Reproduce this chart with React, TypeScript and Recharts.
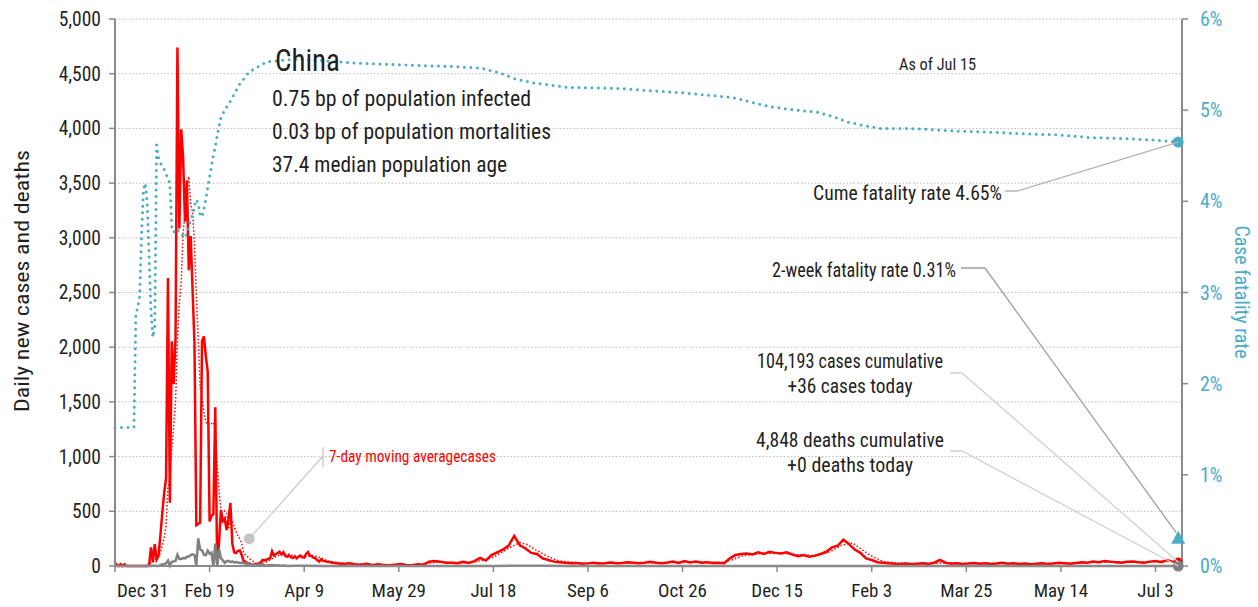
import {
  CartesianGrid,
  ComposedChart,
  Line,
  ReferenceDot,
  XAxis,
  YAxis,
} from "recharts";

const W = 1258;
const H = 607;
const FONT = "'Liberation Sans Narrow', 'Arial Narrow', 'Roboto Condensed', 'DejaVu Sans Condensed', sans-serif";
const TEXT = "#1f1f1f";
const AXIS = "#8a8a8a";
const GRID = "#b8b8b8";
const TEAL = "#4bacc6";
const RED = "#ff0000";
const DEATH = "#808080";

// plot box in px (chart margins + axis widths add up to this)
const PLOT = { left: 115, right: 1182, top: 19, bottom: 566 };
const X_MAX = 564; // days after Dec 31, 2019

// x axis: days since Dec 31 2019
const xTickDays = [0, 50, 100, 150, 200, 250, 300, 350, 400, 450, 500, 550];
const xTickLabels = ["Dec 31", "Feb 19", "Apr 9", "May 29", "Jul 18", "Sep 6", "Oct 26", "Dec 15", "Feb 3", "Mar 25", "May 14", "Jul 3"];
const leftTicks = [0, 500, 1000, 1500, 2000, 2500, 3000, 3500, 4000, 4500, 5000];
const rightTicks = [0, 1, 2, 3, 4, 5, 6];

// daily new cases, day 0..110
const casesDaily = [
  27, 10, 0, 17, 0, 15, 0, 0, 0, 0,
  0, 0, 0, 0, 0, 0, 0, 0, 4, 170,
  35, 200, 60, 95, 277, 486, 669, 802, 2632, 578,
  2054, 1661, 2089, 4739, 3086, 3991, 3733, 3147, 3523, 2704,
  3015, 2525, 2032, 373, 385, 395, 2055, 2100, 1921, 1777,
  408, 458, 473, 1451, 21, 219, 513, 412, 434, 328,
  428, 576, 204, 125, 119, 139, 143, 99, 44, 40,
  19, 24, 15, 11, 20, 16, 25, 33, 56, 50,
  57, 64, 71, 135, 96, 110, 118, 130, 105, 125,
  92, 86, 95, 80, 72, 88, 70, 84, 96, 80,
  77, 110, 128, 95, 88, 75, 70, 52, 40, 62,
  48,
];

// new cases after day 110, [day, cases]
const casesLater: [number, number][] = [
  [112, 40], [115, 30], [118, 22], [121, 18], [124, 25], [127, 14], [130, 12], [133, 20], [136, 8], [139, 15],
  [142, 10], [145, 6], [148, 12], [151, 18], [154, 10], [157, 8], [160, 15], [163, 12], [166, 40], [169, 45],
  [172, 38], [175, 30], [178, 30], [181, 25], [184, 38], [187, 28], [190, 45], [193, 75], [196, 50], [199, 100],
  [202, 125], [205, 150], [208, 185], [211, 275], [214, 190], [217, 160], [220, 120], [223, 110], [226, 70], [229, 55],
  [232, 40], [235, 35], [238, 30], [241, 25], [244, 28], [247, 20], [250, 24], [253, 30], [256, 22], [259, 26],
  [262, 32], [265, 25], [268, 28], [271, 35], [274, 30], [277, 25], [280, 30], [283, 38], [286, 30], [289, 26],
  [292, 32], [295, 40], [298, 28], [301, 45], [304, 33], [307, 40], [310, 30], [313, 35], [316, 28], [319, 30],
  [322, 26], [325, 70], [328, 100], [331, 110], [334, 115], [337, 105], [340, 125], [343, 110], [346, 130], [349, 120],
  [352, 115], [355, 125], [358, 105], [361, 90], [364, 100], [367, 85], [370, 95], [373, 110], [376, 130], [379, 170],
  [382, 185], [385, 240], [388, 200], [391, 150], [394, 120], [397, 70], [400, 55], [403, 35], [406, 30], [409, 25],
  [412, 20], [415, 18], [418, 22], [421, 15], [424, 20], [427, 25], [430, 18], [433, 30], [436, 55], [439, 30],
  [442, 20], [445, 25], [448, 18], [451, 22], [454, 28], [457, 20], [460, 25], [463, 18], [466, 22], [469, 30],
  [472, 20], [475, 25], [478, 18], [481, 22], [484, 15], [487, 20], [490, 25], [493, 18], [496, 22], [499, 30],
  [502, 25], [505, 20], [508, 28], [511, 35], [514, 30], [517, 40], [520, 35], [523, 45], [526, 40], [529, 35],
  [532, 30], [535, 38], [538, 42], [541, 35], [544, 30], [547, 40], [550, 45], [553, 35], [556, 55], [559, 40],
  [562, 36],
];

// daily deaths, day 0..91
const deathsDaily = [
  0, 0, 0, 0, 0, 0, 0, 0, 0, 0,
  0, 1, 0, 0, 0, 0, 0, 0, 0, 0,
  2, 3, 0, 1, 8, 16, 14, 26, 49, 2,
  38, 42, 46, 102, 64, 65, 72, 70, 85, 87,
  100, 107, 100, 5, 252, 152, 142, 103, 98, 139,
  112, 122, 0, 205, 2, 150, 70, 52, 29, 44,
  47, 35, 42, 33, 36, 32, 28, 29, 27, 23,
  16, 22, 11, 7, 14, 10, 14, 13, 11, 8,
  3, 7, 6, 9, 7, 4, 6, 5, 3, 5,
  4, 1,
];
const deathsLater: [number, number][] = [
  [95, 3], [100, 2], [110, 1], [130, 0], [200, 0], [215, 3], [225, 2], [240, 0], [562, 0],
];

// 7-day moving average of cases, [day, value]
const avgPoints: [number, number][] = [
  [17, 0], [19, 25], [20, 30], [21, 58], [22, 67], [23, 81], [24, 120], [25, 189], [26, 260], [27, 370],
  [28, 717], [29, 791], [30, 1071], [31, 1269], [32, 1498], [33, 2079], [34, 2406], [35, 2600], [36, 3050], [37, 3207],
  [38, 3473], [39, 3560], [40, 3314], [41, 3234], [42, 2954], [43, 2474], [44, 2080], [45, 1633], [46, 1540], [47, 1409],
  [48, 1323], [49, 1287], [50, 1292], [51, 1302], [52, 1313], [53, 1227], [54, 930], [55, 687], [56, 506], [57, 507],
  [58, 503], [59, 483], [60, 336], [61, 416], [62, 414], [63, 358], [64, 316], [65, 274], [66, 248], [67, 201],
  [68, 125], [69, 101], [70, 86], [72, 55], [75, 21], [78, 25], [80, 37], [83, 67], [86, 93], [89, 117],
  [92, 107], [95, 91], [98, 84], [101, 86], [104, 96], [107, 88], [110, 62], [113, 45], [120, 28], [130, 18],
  [140, 12], [150, 11], [160, 12], [166, 25], [172, 38], [178, 32], [185, 30], [190, 35], [195, 55], [200, 80],
  [205, 130], [210, 180], [214, 215], [218, 195], [222, 150], [228, 95], [234, 50], [240, 35], [250, 26], [270, 28],
  [290, 30], [300, 34], [310, 36], [320, 30], [326, 55], [332, 95], [340, 112], [350, 120], [360, 105], [370, 95],
  [378, 130], [384, 190], [390, 210], [394, 160], [400, 90], [406, 40], [415, 25], [430, 22], [440, 30], [450, 22],
  [470, 22], [490, 21], [510, 27], [520, 35], [540, 36], [550, 40], [562, 42],
];

// cumulative case fatality rate, %, [day, value]
const cfrPoints: [number, number][] = [
  [0, 1.52], [10, 1.52], [11, 2.75], [12, 2.84], [13, 2.95], [14, 3.6], [15, 4.12], [16, 4.2], [17, 3.98], [18, 3.4],
  [19, 2.8], [20, 2.51], [21, 2.62], [22, 4.62], [23, 4.48], [24, 4.42], [25, 4.38], [26, 4.35], [27, 4.3], [28, 4.25],
  [29, 4.2], [30, 3.72], [31, 3.66], [32, 3.68], [33, 3.7], [34, 3.66], [35, 3.64], [36, 3.62], [37, 3.6], [38, 3.66],
  [39, 3.72], [40, 3.8], [41, 3.85], [42, 3.95], [43, 4.02], [44, 3.98], [45, 3.85], [46, 3.83], [47, 3.92], [48, 4.02],
  [49, 4.15], [50, 4.27], [51, 4.38], [52, 4.5], [53, 4.6], [54, 4.72], [55, 4.82], [56, 4.92], [58, 5.0], [61, 5.1],
  [66, 5.29], [71, 5.42], [80, 5.53], [90, 5.55], [100, 5.56], [124, 5.52], [160, 5.49], [177, 5.48], [194, 5.46], [203, 5.41],
  [212, 5.34], [221, 5.3], [239, 5.25], [265, 5.24], [300, 5.19], [326, 5.14], [346, 5.04], [360, 5.0], [371, 4.98], [381, 4.92],
  [387, 4.87], [394, 4.84], [404, 4.8], [418, 4.8], [429, 4.79], [445, 4.77], [462, 4.76], [480, 4.74], [498, 4.73], [515, 4.7],
  [532, 4.69], [550, 4.67], [562, 4.65],
];

const LAST_DAY = 562;
const lastCases = 36;
const lastDeaths = 0;
const cumeCfr = 4.65;
const twoWeekCfr = 0.31;
const avgLabelAnchor = { day: 71, value: 250 };

type Row = { day: number; cases?: number; deaths?: number; avg?: number; cfr?: number };

function buildRows(): Row[] {
  const map = new Map<number, Row>();
  const put = (day: number, key: keyof Omit<Row, "day">, v: number) => {
    const row = map.get(day) ?? { day };
    row[key] = v;
    map.set(day, row);
  };
  casesDaily.forEach((v, d) => put(d, "cases", v));
  casesLater.forEach(([d, v]) => put(d, "cases", v));
  deathsDaily.forEach((v, d) => put(d, "deaths", v));
  deathsLater.forEach(([d, v]) => put(d, "deaths", v));
  avgPoints.forEach(([d, v]) => put(d, "avg", v));
  cfrPoints.forEach(([d, v]) => put(d, "cfr", v));
  return [...map.values()].sort((a, b) => a.day - b.day);
}

const rows = buildRows();

// same mapping the chart uses, for the annotation overlay
const px = (day: number) => PLOT.left + (day / X_MAX) * (PLOT.right - PLOT.left);
const pyL = (v: number) => PLOT.bottom - (v / 5000) * (PLOT.bottom - PLOT.top);
const pyR = (p: number) => PLOT.bottom - (p / 6) * (PLOT.bottom - PLOT.top);

// eslint-disable-next-line @typescript-eslint/no-explicit-any
function XTick(props: any) {
  const { x, y, payload } = props;
  const i = xTickDays.indexOf(payload.value);
  const first = i === 0;
  return (
    <text
      x={first ? x + 2 : x}
      y={y}
      dy="0.71em"
      textAnchor={first ? "start" : "middle"}
      fill={TEXT}
      fontSize={19}
      fontFamily={FONT}
    >
      {xTickLabels[i]}
    </text>
  );
}

// eslint-disable-next-line @typescript-eslint/no-explicit-any
const triangle = (p: any) => (
  <polygon points={`${p.cx},${p.cy - 7} ${p.cx - 7},${p.cy + 6} ${p.cx + 7},${p.cy + 6}`} fill={TEAL} />
);

function Overlay() {
  const endX = px(LAST_DAY);
  const t = { fontFamily: FONT, fill: TEXT } as const;
  return (
    <svg width={W} height={H} style={{ position: "absolute", left: 0, top: 0, pointerEvents: "none" }}>
      {/* leader lines */}
      <polyline points={`1005,191 1017,191 ${endX},${pyR(cumeCfr)}`} fill="none" stroke="#b4b4b4" strokeWidth={1.3} />
      <polyline points={`961,268 985,268 ${endX - 2},${pyR(twoWeekCfr) - 5}`} fill="none" stroke="#a0a0a0" strokeWidth={1.3} />
      <polyline points={`950,373 962,373 ${endX},${pyL(lastCases)}`} fill="none" stroke="#d0d0d0" strokeWidth={1.3} />
      <polyline points={`950,451 962,451 ${endX},${pyL(lastDeaths)}`} fill="none" stroke="#d0d0d0" strokeWidth={1.3} />
      <line x1={px(avgLabelAnchor.day)} y1={pyL(avgLabelAnchor.value)} x2={323} y2={456} stroke="#c8c8c8" strokeWidth={1.2} />
      <line x1={323} y1={447} x2={323} y2={467} stroke="#c0c0c0" strokeWidth={1.2} />
      <circle cx={px(avgLabelAnchor.day)} cy={pyL(avgLabelAnchor.value)} r={5.5} fill="#c4c4c4" />

      <text x={275} y={71} fontSize={32} textLength={65} lengthAdjust="spacingAndGlyphs" {...t}>China</text>
      <text x={272} y={106} fontSize={21.5} textLength={259} lengthAdjust="spacingAndGlyphs" {...t}>0.75 bp of population infected</text>
      <text x={272} y={139} fontSize={21.5} textLength={279} lengthAdjust="spacingAndGlyphs" {...t}>0.03 bp of population mortalities</text>
      <text x={272} y={172} fontSize={21.5} textLength={235} lengthAdjust="spacingAndGlyphs" {...t}>37.4 median population age</text>
      <text x={899} y={70} fontSize={17} textLength={77} lengthAdjust="spacingAndGlyphs" {...t}>As of Jul 15</text>
      <text x={813} y={200} fontSize={21} textLength={189} lengthAdjust="spacingAndGlyphs" {...t}>Cume fatality rate 4.65%</text>
      <text x={772} y={277} fontSize={21} textLength={184} lengthAdjust="spacingAndGlyphs" {...t}>2-week fatality rate 0.31%</text>
      <text x={850} y={368} fontSize={21} textAnchor="middle" textLength={186} lengthAdjust="spacingAndGlyphs" {...t}>104,193 cases cumulative</text>
      <text x={850} y={393} fontSize={21} textAnchor="middle" textLength={125} lengthAdjust="spacingAndGlyphs" {...t}>+36 cases today</text>
      <text x={850} y={447} fontSize={21} textAnchor="middle" textLength={188} lengthAdjust="spacingAndGlyphs" {...t}>4,848 deaths cumulative</text>
      <text x={850} y={472} fontSize={21} textAnchor="middle" textLength={126} lengthAdjust="spacingAndGlyphs" {...t}>+0 deaths today</text>
      <text x={329} y={462} fontSize={16.5} textLength={167} lengthAdjust="spacingAndGlyphs" fontFamily={FONT} fill={RED}>7-day moving averagecases</text>

      <text transform="translate(29,281) rotate(-90)" textAnchor="middle" fontSize={20} textLength={262} lengthAdjust="spacingAndGlyphs" {...t}>Daily new cases and deaths</text>
      <text transform="translate(1235,292) rotate(90)" textAnchor="middle" fontSize={20} textLength={133} lengthAdjust="spacingAndGlyphs" fontFamily={FONT} fill={TEAL}>Case fatality rate</text>
    </svg>
  );
}

export default function App() {
  return (
    <div style={{ position: "absolute", left: 0, top: 0, width: W, height: H, background: "#fff" }}>
      <ComposedChart width={W} height={H} data={rows} margin={{ top: 19, right: 16, bottom: 11, left: 55 }}>
        <CartesianGrid yAxisId="left" vertical={false} stroke={GRID} strokeDasharray="1.5 2" />
        <XAxis
          dataKey="day"
          type="number"
          domain={[0, X_MAX]}
          ticks={xTickDays}
          interval={0}
          height={30}
          tick={<XTick />}
          tickSize={6}
          tickMargin={12}
          tickLine={{ stroke: AXIS, strokeWidth: 1.5 }}
          axisLine={{ stroke: AXIS, strokeWidth: 2 }}
        />
        <YAxis
          yAxisId="left"
          domain={[0, 5000]}
          ticks={leftTicks}
          width={60}
          tickSize={6}
          tickMargin={8}
          tickFormatter={(v: number) => v.toLocaleString("en-US")}
          tick={{ fill: TEXT, fontSize: 19.5, fontFamily: FONT }}
          tickLine={{ stroke: AXIS, strokeWidth: 1.5 }}
          axisLine={{ stroke: AXIS, strokeWidth: 2 }}
        />
        <YAxis
          yAxisId="right"
          orientation="right"
          domain={[0, 6]}
          ticks={rightTicks}
          width={60}
          tickSize={6}
          tickMargin={12}
          tickFormatter={(v: number) => `${v}%`}
          tick={{ fill: TEAL, fontSize: 20, fontFamily: FONT }}
          tickLine={{ stroke: AXIS, strokeWidth: 1.5 }}
          axisLine={{ stroke: AXIS, strokeWidth: 2 }}
        />
        <Line yAxisId="left" dataKey="cases" stroke={RED} strokeWidth={2.5} dot={false} activeDot={false} connectNulls isAnimationActive={false} />
        <Line yAxisId="left" dataKey="avg" stroke={RED} strokeWidth={1.5} strokeDasharray="1.5 2" dot={false} activeDot={false} connectNulls isAnimationActive={false} />
        <Line yAxisId="left" dataKey="deaths" stroke={DEATH} strokeWidth={2.5} dot={false} activeDot={false} connectNulls isAnimationActive={false} />
        <Line yAxisId="right" dataKey="cfr" stroke={TEAL} strokeWidth={3} strokeDasharray="0 6.5" strokeLinecap="round" dot={false} activeDot={false} connectNulls isAnimationActive={false} />
        <ReferenceDot yAxisId="right" x={LAST_DAY} y={cumeCfr} r={5.5} fill={TEAL} stroke="none" />
        <ReferenceDot yAxisId="right" x={LAST_DAY} y={twoWeekCfr} shape={triangle} />
        <ReferenceDot yAxisId="left" x={LAST_DAY} y={lastCases} r={4.5} fill={RED} stroke="none" />
        <ReferenceDot yAxisId="left" x={LAST_DAY} y={lastDeaths} r={5.5} fill={DEATH} stroke="none" />
      </ComposedChart>
      <Overlay />
    </div>
  );
}
